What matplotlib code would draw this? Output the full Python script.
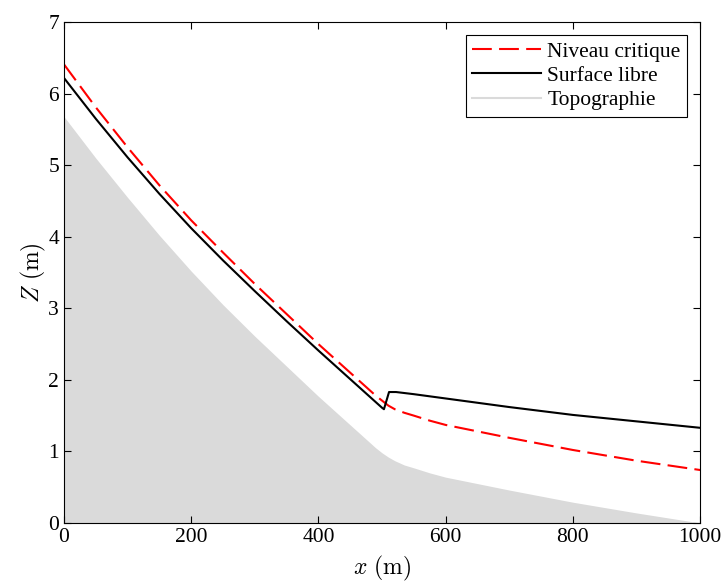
import numpy as np
import matplotlib
matplotlib.use("Agg")
import matplotlib.pyplot as plt

plt.rcParams["font.family"] = ["Liberation Serif", "DejaVu Serif"]
plt.rcParams["mathtext.fontset"] = "cm"

# topography (bed)
x_topo = [0, 50, 100, 150, 200, 250, 300, 350, 400, 450, 480, 490, 500,
          510, 520, 535, 550, 575, 600, 650, 700, 800, 900, 1000]
z_topo = [5.68, 5.10, 4.55, 4.02, 3.52, 3.05, 2.61, 2.19, 1.77, 1.37, 1.13,
          1.05, 0.98, 0.92, 0.87, 0.81, 0.77, 0.70, 0.64, 0.55, 0.46, 0.29,
          0.14, 0.0]

# critical level
x_crit = [0, 50, 100, 150, 200, 250, 300, 350, 400, 450, 480, 490, 500,
          510, 520, 535, 550, 575, 600, 650, 700, 800, 900, 1000]
z_crit = [6.41, 5.81, 5.25, 4.72, 4.23, 3.78, 3.34, 2.92, 2.50, 2.10, 1.86,
          1.78, 1.71, 1.64, 1.59, 1.54, 1.50, 1.43, 1.37, 1.28, 1.19, 1.02,
          0.87, 0.74]

# free surface
x_surf = [0, 50, 100, 150, 200, 250, 300, 350, 400, 450, 500, 503, 511,
          522, 550, 600, 700, 800, 900, 1000]
z_surf = [6.22, 5.65, 5.11, 4.60, 4.12, 3.67, 3.24, 2.82, 2.41, 2.01, 1.61,
          1.59, 1.83, 1.83, 1.80, 1.74, 1.62, 1.51, 1.42, 1.33]

fig = plt.figure(figsize=(7.27, 5.83), dpi=100)
ax = fig.add_axes([0.088, 0.103, 0.875, 0.859])

topo_color = "#dadada"
ax.fill_between(x_topo, 0, z_topo, color=topo_color, linewidth=0)
ax.plot(x_crit, z_crit, color="red", linewidth=1.5, dashes=(9.5, 3.5),
        label="Niveau critique")
ax.plot(x_surf, z_surf, color="black", linewidth=1.5, label="Surface libre")
ax.plot([], [], color=topo_color, linewidth=1.5, label="Topographie")

ax.set_xlim(0, 1000)
ax.set_ylim(0, 7)
ax.set_xticks(np.arange(0, 1001, 200))
ax.set_yticks(np.arange(0, 8, 1))
ax.tick_params(direction="in", top=True, right=True, length=5,
               labelsize=15.5, width=0.8)
for s in ax.spines.values():
    s.set_linewidth(0.8)

ax.set_xlabel(r"$x\ (\mathrm{m})$", fontsize=17, labelpad=5)
ax.set_ylabel(r"$Z\ (\mathrm{m})$", fontsize=17, labelpad=0)

leg = ax.legend(loc="upper right", fontsize=15.5, fancybox=False,
                framealpha=1, edgecolor="black", handlelength=3.2,
                borderaxespad=0.6, borderpad=0.3, labelspacing=0.2,
                handletextpad=0.3)
leg.get_frame().set_linewidth(0.8)

fig.savefig("out.png", dpi=100)
